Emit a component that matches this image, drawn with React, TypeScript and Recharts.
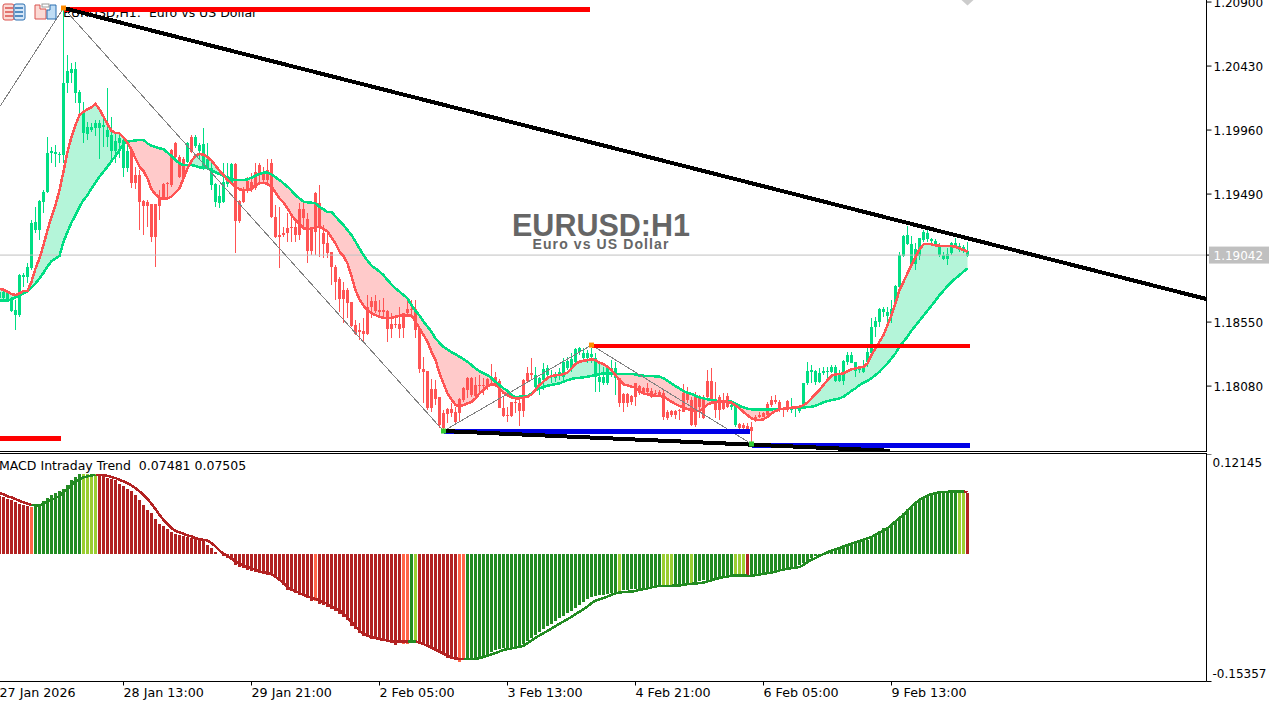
import { Area, Bar, ComposedChart, Line, ReferenceDot, ReferenceLine, XAxis, YAxis } from "recharts";

// EURUSD H1, one row per bar: open, high, low, close
const ohlc = [
  [1.18724,1.18798,1.18700,1.18773],[1.18724,1.18785,1.18712,1.18773],[1.18712,1.18785,1.18700,1.18766],[1.18631,1.18736,1.18626,1.18712],
  [1.18602,1.18712,1.18491,1.18638],[1.18602,1.18903,1.18589,1.18895],[1.18878,1.18908,1.18810,1.18895],[1.18878,1.18981,1.18834,1.18957],
  [1.18944,1.19299,1.18932,1.19280],[1.19226,1.19397,1.19201,1.19287],[1.19226,1.19446,1.19152,1.19439],[1.19429,1.19520,1.19348,1.19507],
  [1.19507,1.19906,1.19500,1.19794],[1.19794,1.19838,1.19715,1.19804],[1.19784,1.19850,1.19691,1.19799],[1.19774,1.19801,1.19715,1.19784],
  [1.19777,1.20846,1.19715,1.20303],[1.20303,1.20511,1.20230,1.20394],[1.20381,1.20450,1.20303,1.20408],[1.20234,1.20462,1.20156,1.20408],
  [1.20156,1.20254,1.20083,1.20242],[1.19936,1.20168,1.19862,1.20083],[1.19931,1.20021,1.19887,1.19985],[1.19960,1.20009,1.19948,1.19985],
  [1.19977,1.20034,1.19916,1.20009],[1.19975,1.20034,1.19745,1.20014],[1.19985,1.20070,1.19838,1.19997],[1.19911,1.20266,1.19838,1.19960],
  [1.19808,1.20058,1.19740,1.19924],[1.19806,1.19948,1.19715,1.19879],[1.19867,1.19924,1.19752,1.19899],[1.19684,1.19899,1.19618,1.19887],
  [1.19684,1.19862,1.19654,1.19808],[1.19808,1.19813,1.19532,1.19574],[1.19630,1.19691,1.19525,1.19574],[1.19630,1.19667,1.19226,1.19434],
  [1.19439,1.19446,1.19189,1.19405],[1.19434,1.19446,1.19250,1.19405],[1.19414,1.19417,1.19140,1.19177],[1.19414,1.19417,1.18957,1.19177],
  [1.19458,1.19520,1.19299,1.19405],[1.19561,1.19569,1.19446,1.19458],[1.19569,1.19581,1.19446,1.19561],[1.19813,1.19818,1.19544,1.19556],
  [1.19862,1.19875,1.19740,1.19764],[1.19764,1.19777,1.19605,1.19618],[1.19745,1.19764,1.19605,1.19618],[1.19728,1.19875,1.19715,1.19862],
  [1.19911,1.19924,1.19789,1.19801],[1.19845,1.19924,1.19826,1.19911],[1.19808,1.19862,1.19740,1.19850],[1.19679,1.19972,1.19667,1.19857],
  [1.19679,1.19862,1.19667,1.19745],[1.19556,1.19745,1.19520,1.19684],[1.19429,1.19569,1.19397,1.19561],[1.19422,1.19556,1.19385,1.19476],
  [1.19429,1.19715,1.19422,1.19581],[1.19564,1.19715,1.19544,1.19618],[1.19564,1.19715,1.19556,1.19711],[1.19711,1.19720,1.19059,1.19294],
  [1.19439,1.19446,1.19275,1.19294],[1.19520,1.19544,1.19422,1.19429],[1.19586,1.19618,1.19495,1.19520],[1.19581,1.19642,1.19507,1.19520],
  [1.19654,1.19715,1.19520,1.19532],[1.19703,1.19715,1.19581,1.19642],[1.19642,1.19691,1.19581,1.19593],[1.19667,1.19745,1.19569,1.19593],
  [1.19715,1.19745,1.19312,1.19319],[1.19324,1.19409,1.19165,1.19172],[1.19189,1.19397,1.18944,1.19172],[1.19201,1.19250,1.19177,1.19189],
  [1.19243,1.19348,1.19140,1.19201],[1.19250,1.19348,1.19140,1.19245],[1.19250,1.19299,1.19140,1.19189],[1.19378,1.19422,1.19152,1.19189],
  [1.19378,1.19446,1.19226,1.19312],[1.19304,1.19348,1.18981,1.19074],[1.19243,1.19250,1.19042,1.19074],[1.19500,1.19507,1.19042,1.19214],
  [1.19422,1.19556,1.19030,1.19250],[1.19201,1.19263,1.19018,1.19121],[1.19133,1.19201,1.19018,1.19055],[1.19062,1.19067,1.18822,1.18952],
  [1.18957,1.18969,1.18712,1.18846],[1.18864,1.18883,1.18626,1.18719],[1.18785,1.18846,1.18540,1.18719],[1.18785,1.18798,1.18577,1.18687],
  [1.18695,1.18700,1.18516,1.18523],[1.18528,1.18565,1.18455,1.18460],[1.18491,1.18540,1.18418,1.18479],[1.18484,1.18577,1.18394,1.18460],
  [1.18663,1.18749,1.18455,1.18460],[1.18707,1.18736,1.18577,1.18663],[1.18707,1.18749,1.18614,1.18629],[1.18638,1.18712,1.18577,1.18626],
  [1.18638,1.18724,1.18577,1.18626],[1.18629,1.18638,1.18406,1.18499],[1.18535,1.18614,1.18430,1.18499],[1.18535,1.18602,1.18504,1.18528],
  [1.18535,1.18663,1.18430,1.18499],[1.18614,1.18619,1.18430,1.18504],[1.18643,1.18712,1.18589,1.18614],[1.18648,1.18712,1.18602,1.18638],
  [1.18643,1.18712,1.18430,1.18491],[1.18504,1.18516,1.18178,1.18203],[1.18205,1.18296,1.17953,1.18185],[1.18190,1.18193,1.17904,1.17916],
  [1.18056,1.18129,1.17892,1.17916],[1.18058,1.18124,1.17941,1.17985],[1.18002,1.18002,1.17769,1.17794],[1.17879,1.17904,1.17757,1.17774],
  [1.17909,1.17916,1.17806,1.17874],[1.17909,1.17953,1.17855,1.17879],[1.17892,1.17928,1.17806,1.17818],[1.17982,1.17990,1.17818,1.17879],
  [1.18063,1.18070,1.17965,1.17977],[1.18137,1.18149,1.17990,1.18051],[1.18137,1.18149,1.18002,1.18014],[1.18088,1.18149,1.18002,1.18009],
  [1.18088,1.18161,1.18014,1.18080],[1.18088,1.18141,1.18014,1.18080],[1.18129,1.18137,1.18051,1.18075],[1.18144,1.18242,1.18100,1.18124],
  [1.18149,1.18185,1.18075,1.18090],[1.18119,1.18129,1.17916,1.17916],[1.17916,1.18002,1.17855,1.17860],[1.17867,1.17928,1.17818,1.17862],
  [1.17965,1.17965,1.17855,1.17862],[1.17965,1.17990,1.17879,1.17960],[1.17958,1.17977,1.17786,1.17899],[1.18124,1.18129,1.17855,1.17899],
  [1.18173,1.18222,1.18112,1.18117],[1.18173,1.18283,1.18124,1.18161],[1.18075,1.18222,1.18063,1.18161],[1.18080,1.18149,1.18014,1.18137],
  [1.18124,1.18247,1.18051,1.18203],[1.18161,1.18234,1.18124,1.18210],[1.18149,1.18198,1.18100,1.18161],[1.18137,1.18185,1.18112,1.18161],
  [1.18156,1.18210,1.18124,1.18185],[1.18149,1.18283,1.18124,1.18259],[1.18210,1.18296,1.18198,1.18266],[1.18210,1.18320,1.18185,1.18276],
  [1.18259,1.18357,1.18247,1.18352],[1.18327,1.18369,1.18308,1.18357],[1.18283,1.18357,1.18271,1.18325],[1.18283,1.18345,1.18247,1.18320],
  [1.18296,1.18357,1.18247,1.18315],[1.18149,1.18320,1.18039,1.18283],[1.18112,1.18247,1.18039,1.18149],[1.18100,1.18222,1.18088,1.18144],
  [1.18100,1.18222,1.18088,1.18210],[1.18198,1.18271,1.18149,1.18210],[1.18137,1.18259,1.18014,1.18210],[1.18137,1.18141,1.17928,1.17953],
  [1.18019,1.18026,1.17892,1.17953],[1.18019,1.18026,1.17928,1.17958],[1.18007,1.18014,1.17941,1.17965],[1.18100,1.18100,1.17933,1.18002],
  [1.18080,1.18088,1.18014,1.18031],[1.18068,1.18075,1.18014,1.18034],[1.18063,1.18100,1.18014,1.18034],[1.18044,1.18063,1.17990,1.18002],
  [1.18031,1.18051,1.18002,1.18022],[1.18039,1.18051,1.18002,1.18014],[1.18026,1.18051,1.17831,1.17850],[1.17892,1.17904,1.17831,1.17843],
  [1.17894,1.17904,1.17855,1.17867],[1.17894,1.17904,1.17836,1.17867],[1.17904,1.17909,1.17831,1.17894],[1.18026,1.18095,1.17889,1.17892],
  [1.18019,1.18075,1.17953,1.17977],[1.17977,1.18002,1.17789,1.17794],[1.18002,1.18039,1.17782,1.17794],[1.18002,1.18014,1.17843,1.17928],
  [1.18002,1.18014,1.17838,1.17843],[1.18117,1.18198,1.17990,1.17997],[1.18117,1.18210,1.17973,1.17977],[1.17977,1.18112,1.17843,1.17904],
  [1.18002,1.18014,1.17831,1.17904],[1.17977,1.18031,1.17904,1.17909],[1.18009,1.18031,1.17916,1.17928],[1.17923,1.17965,1.17904,1.17941],
  [1.17794,1.17941,1.17782,1.17941],[1.17799,1.17806,1.17757,1.17769],[1.17794,1.17806,1.17757,1.17769],[1.17786,1.17806,1.17745,1.17757],
  [1.17782,1.17818,1.17659,1.17752],[1.17850,1.17867,1.17818,1.17826],[1.17867,1.17892,1.17843,1.17850],[1.17879,1.17892,1.17855,1.17855],
  [1.17945,1.17965,1.17855,1.17867],[1.17977,1.18007,1.17928,1.17941],[1.17977,1.18014,1.17948,1.17965],[1.17965,1.17977,1.17892,1.17904],
  [1.17916,1.17928,1.17850,1.17909],[1.17973,1.17977,1.17892,1.17909],[1.17904,1.17990,1.17879,1.17916],[1.17909,1.17928,1.17850,1.17921],
  [1.17897,1.17928,1.17884,1.17921],[1.17928,1.18105,1.17923,1.18100],[1.18100,1.18259,1.18088,1.18193],[1.18185,1.18234,1.18100,1.18198],
  [1.18112,1.18198,1.18088,1.18190],[1.18112,1.18210,1.18100,1.18173],[1.18173,1.18222,1.18161,1.18190],[1.18185,1.18217,1.18137,1.18190],
  [1.18180,1.18234,1.18173,1.18222],[1.18119,1.18234,1.18112,1.18217],[1.18119,1.18198,1.18112,1.18173],[1.18119,1.18271,1.18088,1.18264],
  [1.18254,1.18332,1.18234,1.18308],[1.18252,1.18332,1.18247,1.18308],[1.18193,1.18259,1.18149,1.18259],[1.18198,1.18222,1.18173,1.18210],
  [1.18180,1.18271,1.18173,1.18222],[1.18254,1.18369,1.18222,1.18327],[1.18325,1.18577,1.18320,1.18516],[1.18516,1.18589,1.18443,1.18557],
  [1.18553,1.18651,1.18516,1.18646],[1.18621,1.18663,1.18589,1.18646],[1.18597,1.18663,1.18540,1.18626],[1.18597,1.18712,1.18540,1.18646],
  [1.18687,1.18822,1.18682,1.18815],[1.18810,1.19067,1.18805,1.19042],[1.19037,1.19189,1.19030,1.19182],[1.19123,1.19255,1.19116,1.19189],
  [1.18974,1.19182,1.18969,1.19123],[1.18974,1.19128,1.18932,1.19086],[1.19037,1.19169,1.19005,1.19165],[1.19152,1.19226,1.19140,1.19214],
  [1.19157,1.19226,1.19140,1.19206],[1.19147,1.19165,1.19128,1.19157],[1.19108,1.19157,1.19098,1.19147],[1.19042,1.19128,1.19030,1.19103],
  [1.19013,1.19067,1.19005,1.19042],[1.19013,1.19091,1.18969,1.19050],[1.19055,1.19140,1.19042,1.19128],[1.19103,1.19165,1.19098,1.19128],
  [1.19079,1.19128,1.19067,1.19108],[1.19074,1.19116,1.19059,1.19098],[1.19037,1.19140,1.19030,1.19074],
];

const fastMa = [
  1.18793,1.18788,1.18773,1.18756,1.18749,1.18761,1.18778,1.18780,1.18846,1.18944,1.19018,1.19116,1.19226,1.19324,1.19409,1.19520,
  1.19654,1.19801,1.19911,1.19997,1.20070,1.20095,1.20112,1.20127,1.20151,1.20112,1.20058,1.20004,1.19955,1.19938,1.19936,1.19906,
  1.19867,1.19813,1.19752,1.19691,1.19659,1.19605,1.19525,1.19488,1.19463,1.19454,1.19458,1.19471,1.19500,1.19532,1.19605,1.19679,
  1.19733,1.19772,1.19784,1.19779,1.19762,1.19735,1.19698,1.19662,1.19630,1.19593,1.19569,1.19544,1.19525,1.19520,1.19520,1.19525,
  1.19556,1.19569,1.19574,1.19564,1.19544,1.19500,1.19458,1.19429,1.19385,1.19336,1.19299,1.19270,1.19238,1.19233,1.19236,1.19245,
  1.19250,1.19236,1.19214,1.19172,1.19128,1.19067,1.19035,1.18981,1.18888,1.18785,1.18717,1.18670,1.18638,1.18614,1.18602,1.18589,
  1.18582,1.18577,1.18582,1.18589,1.18597,1.18597,1.18597,1.18597,1.18553,1.18504,1.18455,1.18406,1.18332,1.18271,1.18173,1.18100,
  1.18026,1.17982,1.17941,1.17933,1.17941,1.17953,1.17965,1.17990,1.18026,1.18051,1.18080,1.18093,1.18088,1.18063,1.18031,1.18014,
  1.17997,1.17990,1.17990,1.17995,1.18002,1.18019,1.18051,1.18088,1.18112,1.18141,1.18154,1.18159,1.18161,1.18168,1.18178,1.18210,
  1.18242,1.18259,1.18266,1.18271,1.18276,1.18271,1.18252,1.18242,1.18222,1.18198,1.18161,1.18124,1.18093,1.18085,1.18075,1.18070,
  1.18039,1.18026,1.18019,1.18014,1.18009,1.18007,1.18002,1.17985,1.17965,1.17948,1.17933,1.17923,1.17911,1.17904,1.17897,1.17897,
  1.17916,1.17945,1.17958,1.17963,1.17968,1.17968,1.17965,1.17958,1.17938,1.17916,1.17889,1.17867,1.17843,1.17833,1.17831,1.17836,
  1.17855,1.17879,1.17897,1.17909,1.17914,1.17916,1.17921,1.17923,1.17928,1.17941,1.17958,1.17990,1.18022,1.18051,1.18088,1.18124,
  1.18156,1.18166,1.18168,1.18173,1.18190,1.18203,1.18210,1.18217,1.18222,1.18247,1.18308,1.18357,1.18406,1.18455,1.18528,1.18602,
  1.18687,1.18785,1.18846,1.18908,1.18969,1.19030,1.19084,1.19121,1.19123,1.19121,1.19113,1.19111,1.19108,1.19108,1.19108,1.19103,
  1.19091,1.19079,1.19067,
];

const slowMa = [
  1.18707,1.18707,1.18707,1.18719,1.18731,1.18749,1.18761,1.18773,1.18805,1.18834,1.18871,1.18912,1.18957,1.18998,1.19018,1.19035,
  1.19140,1.19214,1.19280,1.19336,1.19397,1.19446,1.19483,1.19532,1.19574,1.19618,1.19654,1.19691,1.19733,1.19769,1.19813,1.19857,
  1.19875,1.19879,1.19884,1.19887,1.19887,1.19862,1.19845,1.19835,1.19826,1.19821,1.19794,1.19769,1.19740,1.19715,1.19703,1.19703,
  1.19703,1.19696,1.19686,1.19681,1.19679,1.19667,1.19649,1.19637,1.19625,1.19613,1.19600,1.19593,1.19593,1.19593,1.19598,1.19610,
  1.19625,1.19637,1.19647,1.19647,1.19635,1.19613,1.19593,1.19569,1.19544,1.19515,1.19483,1.19458,1.19434,1.19429,1.19427,1.19422,
  1.19397,1.19378,1.19358,1.19360,1.19324,1.19294,1.19263,1.19226,1.19189,1.19140,1.19091,1.19042,1.19001,1.18964,1.18944,1.18920,
  1.18895,1.18859,1.18827,1.18798,1.18773,1.18749,1.18724,1.18675,1.18633,1.18597,1.18553,1.18516,1.18479,1.18430,1.18398,1.18369,
  1.18350,1.18327,1.18315,1.18296,1.18278,1.18259,1.18234,1.18210,1.18190,1.18173,1.18161,1.18141,1.18112,1.18088,1.18063,1.18046,
  1.18014,1.18000,1.18002,1.18002,1.18007,1.18026,1.18051,1.18063,1.18075,1.18083,1.18088,1.18095,1.18100,1.18112,1.18124,1.18132,
  1.18139,1.18141,1.18144,1.18149,1.18154,1.18161,1.18168,1.18173,1.18173,1.18171,1.18168,1.18168,1.18168,1.18168,1.18168,1.18166,
  1.18156,1.18156,1.18154,1.18154,1.18151,1.18149,1.18137,1.18119,1.18100,1.18080,1.18063,1.18044,1.18031,1.18022,1.18009,1.17997,
  1.17990,1.17982,1.17977,1.17973,1.17970,1.17968,1.17968,1.17965,1.17953,1.17936,1.17923,1.17914,1.17909,1.17909,1.17909,1.17909,
  1.17909,1.17909,1.17911,1.17911,1.17914,1.17916,1.17919,1.17921,1.17921,1.17923,1.17926,1.17928,1.17936,1.17948,1.17960,1.17970,
  1.17977,1.17982,1.17990,1.18002,1.18022,1.18046,1.18063,1.18088,1.18105,1.18119,1.18137,1.18161,1.18185,1.18217,1.18247,1.18283,
  1.18320,1.18369,1.18406,1.18443,1.18487,1.18523,1.18560,1.18597,1.18633,1.18670,1.18707,1.18749,1.18780,1.18815,1.18846,1.18871,
  1.18895,1.18920,1.18944,
];

const macdHist = [
  .0709,.0693,.0673,.0653,.0629,.0613,.0596,.0588,.0572,.0588,.0609,.0641,.0681,.0721,.0742,.0762,
  .0790,.0842,.0895,.0935,.0975,.0975,.0975,.0971,.0971,.0959,.0943,.0927,.0911,.0895,.0854,.0822,
  .0794,.0766,.0713,.0661,.0600,.0540,.0500,.0427,.0371,.0339,.0306,.0266,.0250,.0238,.0226,.0210,
  .0197,.0185,.0177,.0157,.0117,.0073,.0024,.0008,-.0016,-.0048,-.0064,-.0125,-.0153,-.0169,-.0185,-.0202,
  -.0218,-.0226,-.0234,-.0246,-.0246,-.0286,-.0326,-.0367,-.0427,-.0447,-.0467,-.0488,-.0508,-.0528,-.0568,-.0568,
  -.0596,-.0609,-.0637,-.0661,-.0681,-.0717,-.0758,-.0798,-.0862,-.0903,-.0951,-.0991,-.1003,-.1016,-.1024,-.1032,
  -.1040,-.1052,-.1072,-.1092,-.1072,-.1080,-.1080,-.1052,-.1052,-.1064,-.1092,-.1112,-.1145,-.1173,-.1193,-.1213,
  -.1253,-.1265,-.1273,-.1294,-.1265,-.1273,-.1273,-.1265,-.1261,-.1253,-.1213,-.1185,-.1153,-.1140,-.1136,-.1132,
  -.1124,-.1112,-.1104,-.1080,-.1048,-.1012,-.0971,-.0935,-.0903,-.0866,-.0838,-.0806,-.0774,-.0742,-.0709,-.0681,
  -.0649,-.0613,-.0580,-.0544,-.0516,-.0504,-.0496,-.0488,-.0476,-.0463,-.0459,-.0447,-.0435,-.0427,-.0423,-.0419,
  -.0419,-.0411,-.0403,-.0403,-.0395,-.0387,-.0367,-.0367,-.0367,-.0367,-.0367,-.0355,-.0347,-.0347,-.0339,-.0326,
  -.0314,-.0306,-.0298,-.0286,-.0274,-.0266,-.0258,-.0258,-.0246,-.0246,-.0246,-.0258,-.0258,-.0246,-.0234,-.0226,
  -.0218,-.0206,-.0193,-.0185,-.0173,-.0165,-.0153,-.0145,-.0133,-.0105,-.0073,-.0044,-.0024,-.0008,.0008,.0016,
  .0056,.0064,.0077,.0089,.0117,.0125,.0137,.0149,.0157,.0177,.0197,.0238,.0278,.0318,.0330,.0359,
  .0399,.0439,.0500,.0548,.0580,.0621,.0661,.0689,.0713,.0733,.0750,.0754,.0754,.0754,.0762,.0762,
  .0754,.0754,.07481,
];

const macdSignal = [
  .0742,.0729,.0701,.0693,.0669,.0649,.0629,.0613,.0600,.0592,.0592,.0613,.0641,.0661,.0681,.0709,
  .0750,.0790,.0842,.0883,.0911,.0931,.0943,.0955,.0963,.0963,.0959,.0951,.0935,.0923,.0903,.0883,
  .0862,.0834,.0802,.0762,.0721,.0673,.0613,.0548,.0480,.0419,.0371,.0318,.0286,.0266,.0250,.0230,
  .0218,.0197,.0185,.0177,.0169,.0137,.0097,.0048,.0008,-.0016,-.0048,-.0085,-.0113,-.0133,-.0153,-.0169,
  -.0185,-.0210,-.0214,-.0226,-.0238,-.0266,-.0306,-.0347,-.0395,-.0419,-.0443,-.0467,-.0488,-.0508,-.0524,-.0540,
  -.0556,-.0576,-.0596,-.0629,-.0649,-.0677,-.0717,-.0762,-.0818,-.0870,-.0919,-.0959,-.0983,-.0999,-.1012,-.1024,
  -.1032,-.1040,-.1048,-.1052,-.1052,-.1052,-.1052,-.1052,-.1052,-.1064,-.1084,-.1104,-.1124,-.1153,-.1173,-.1201,
  -.1225,-.1245,-.1257,-.1265,-.1265,-.1265,-.1265,-.1261,-.1253,-.1241,-.1225,-.1209,-.1193,-.1173,-.1153,-.1145,
  -.1136,-.1124,-.1116,-.1104,-.1072,-.1040,-.1008,-.0979,-.0951,-.0923,-.0895,-.0866,-.0838,-.0810,-.0782,-.0754,
  -.0721,-.0693,-.0661,-.0629,-.0588,-.0560,-.0544,-.0528,-.0508,-.0488,-.0471,-.0459,-.0455,-.0451,-.0447,-.0443,
  -.0427,-.0419,-.0411,-.0399,-.0387,-.0379,-.0379,-.0379,-.0379,-.0375,-.0375,-.0367,-.0359,-.0355,-.0351,-.0347,
  -.0339,-.0326,-.0314,-.0298,-.0286,-.0274,-.0266,-.0254,-.0254,-.0254,-.0254,-.0258,-.0258,-.0250,-.0242,-.0234,
  -.0226,-.0218,-.0206,-.0193,-.0181,-.0173,-.0165,-.0157,-.0153,-.0125,-.0093,-.0064,-.0044,-.0016,.0004,.0028,
  .0048,.0064,.0077,.0097,.0113,.0129,.0145,.0165,.0177,.0197,.0210,.0238,.0266,.0290,.0318,.0359,
  .0399,.0439,.0480,.0528,.0580,.0621,.0661,.0689,.0713,.0729,.0742,.0750,.0754,.0758,.0762,.0762,
  .0762,.0762,.07505,
];

// histogram state per run of bars: d = falling, t = weak falling, g = rising, y = weak rising
const histRuns: [string, number][] = [
  ["d",8],["t",1],["g",12],["y",4],["d",54],["t",1],["d",21],["t",2],["g",1],["y",1],["d",10],["t",2],
  ["g",38],["y",1],["g",10],["y",3],["g",4],["y",1],["g",10],["y",3],["d",1],["g",52],["y",2],["d",1],
];
const histState = histRuns.flatMap(([s, n]) => Array(n).fill(s) as string[]);

const priceTicks = [1.209, 1.2043, 1.1996, 1.1949, 1.19042, 1.1855, 1.1808];
const lastPrice = 1.19042;
const macdTicks = [0.12145, -0.15357];
const timeTickBars = [0, 31, 63, 95, 127, 159, 191, 223];
const timeTickLabels = ["27 Jan 2026", "28 Jan 13:00", "29 Jan 21:00", "2 Feb 05:00", "3 Feb 13:00", "4 Feb 21:00", "6 Feb 05:00", "9 Feb 13:00"];

// drawn objects on the price chart, [bar, price]
const zigzag = [[-1.5, 1.2006], [16, 1.20856], [111, 1.1775], [148, 1.18381], [188, 1.17655]];
const trendTop = [[16, 1.20856], [301.75, 1.18719]];
const trendBottom = [[111, 1.1775], [222.6, 1.17605]];
const redLevels = [[-2, 15.4, 1.17696], [16, 147.6, 1.20846], [148, 242.5, 1.18376]];
const blueLevels = [[111, 187.5, 1.17747], [188, 242.5, 1.17642]];
const pivotsOrange = [[16, 1.20856], [148, 1.18381]];
const pivotsGreen = [[111, 1.1775], [188, 1.17655]];

const UP = "#00DE83";
const DOWN = "#FF5454";
const FONT = "DejaVu Sans";
const xDomain = [-1.875, 301.75];

const priceData = ohlc.map((c, idx) => ({
  idx, open: c[0], high: c[1], low: c[2], close: c[3], fast: fastMa[idx], slow: slowMa[idx],
  upBand: [slowMa[idx], Math.max(fastMa[idx], slowMa[idx])],
  downBand: [Math.min(fastMa[idx], slowMa[idx]), slowMa[idx]],
}));

const isDown = (i: number) => histState[i] === "d" || histState[i] === "t";
const macdData = macdHist.map((hist, idx) => ({
  idx, hist,
  sigDown: isDown(idx) || isDown(idx + 1) ? macdSignal[idx] : null,
  sigUp: !isDown(idx) || (idx + 1 < macdHist.length && !isDown(idx + 1)) ? macdSignal[idx] : null,
}));
const histColor: Record<string, string> = { d: "#B22222", t: "#FF6347", g: "#228B22", y: "#9ACD32" };

function Candle(props: any) {
  const { x, width, y, height, payload } = props;
  const top = Math.min(y, y + height);
  const h = Math.abs(height);
  const range = payload.high - payload.low;
  const ratio = range > 0 ? h / range : 0;
  const bodyTop = top + (payload.high - Math.max(payload.open, payload.close)) * ratio;
  const bodyH = Math.max(Math.abs(payload.close - payload.open) * ratio, 1);
  const fill = payload.close >= payload.open ? UP : DOWN;
  const left = Math.ceil(x);
  return (
    <g shapeRendering="crispEdges">
      <rect x={left + 1} y={top} width={1} height={h} fill={fill} />
      <rect x={left} y={bodyTop} width={width} height={bodyH} fill={fill} />
    </g>
  );
}

function HistBar(props: any) {
  const { x, width, y, height, payload } = props;
  return (
    <rect
      x={Math.ceil(x)}
      y={Math.min(y, y + height)}
      width={width}
      height={Math.abs(height)}
      fill={histColor[histState[payload.idx]]}
      shapeRendering="crispEdges"
    />
  );
}

function PriceTick(props: any) {
  const { x, y, payload } = props;
  if (payload.value === lastPrice) {
    return (
      <g>
        <rect x={x - 4.5} y={y - 8.5} width={60} height={17} fill="#C0C0C0" />
        <text x={x} y={y + 4.5} fontFamily={FONT} fontSize={12} fill="#fff">{payload.value.toFixed(5)}</text>
      </g>
    );
  }
  return <text x={x} y={y + 4.5} fontFamily={FONT} fontSize={12} fill="#000">{payload.value.toFixed(5)}</text>;
}

function MacdTick(props: any) {
  const { x, y, payload } = props;
  const dy = payload.value > 0 ? 12.5 : -4;
  return <text x={x} y={y + dy} fontFamily={FONT} fontSize={12} fill="#000">{payload.value.toFixed(5)}</text>;
}

function TimeTick(props: any) {
  const { x, y, payload } = props;
  const label = timeTickLabels[timeTickBars.indexOf(payload.value)];
  return <text x={x} y={y + 9} fontFamily={FONT} fontSize={12.7} fill="#000">{label}</text>;
}

const seg = (from: number[], to: number[], stroke: string, width: number, key: string) => (
  <ReferenceLine
    key={key}
    segment={[{ x: from[0], y: from[1] }, { x: to[0], y: to[1] }]}
    stroke={stroke}
    strokeWidth={width}
    shapeRendering="crispEdges"
    ifOverflow="visible"
  />
);

const square = (fill: string) => (p: any) => <rect x={p.cx - 2.5} y={p.cy - 2.5} width={5} height={5} fill={fill} />;

export default function App() {
  return (
    <div style={{ position: "absolute", left: 0, top: 0, width: 1282, height: 706, overflow: "hidden", background: "#fff" }}>
      <div style={{ position: "absolute", left: 63, top: 5, fontFamily: FONT, fontSize: 12.5, whiteSpace: "pre", color: "#000" }}>EURUSD,H1:  Euro vs US Dollar</div>
      <div style={{ position: "absolute", left: 401, width: 400, top: 212, height: 26, textAlign: "center", fontFamily: "Liberation Sans", fontWeight: 700, fontSize: 30.5, lineHeight: "26px", color: "#666" }}>EURUSD:H1</div>
      <div style={{ position: "absolute", left: 401, width: 400, top: 238, height: 13, textAlign: "center", fontFamily: "Liberation Sans", fontWeight: 700, fontSize: 14, lineHeight: "13px", letterSpacing: 1.1, color: "#666" }}>Euro vs US Dollar</div>
      <div style={{ position: "absolute", left: -1, top: 458, fontFamily: FONT, fontSize: 12.5, lineHeight: "16px", whiteSpace: "pre", color: "#000" }}>MACD Intraday Trend  0.07481 0.07505</div>

      <div style={{ position: "absolute", left: -8, top: 0 }}>
        <ComposedChart width={1290} height={452} data={priceData} margin={{ top: 0, right: 0, bottom: 0, left: 0 }}>
          <XAxis hide type="number" dataKey="idx" domain={xDomain} allowDataOverflow />
          <YAxis
            orientation="right"
            width={75.5}
            type="number"
            domain={[1.17596, 1.20915]}
            allowDataOverflow
            ticks={priceTicks}
            interval={0}
            tick={<PriceTick />}
            tickSize={5}
            tickMargin={2}
            stroke="#000"
          />
          <Area dataKey="upBand" type="linear" stroke="none" fill="#B4F5D9" fillOpacity={1} dot={false} activeDot={false} isAnimationActive={false} />
          <Area dataKey="downBand" type="linear" stroke="none" fill="#FFCACA" fillOpacity={1} dot={false} activeDot={false} isAnimationActive={false} />
          <ReferenceLine y={lastPrice} stroke="#C0C0C0" strokeWidth={1} />
          <Bar dataKey={(d: any) => [d.low, d.high]} barSize={3} shape={<Candle />} isAnimationActive={false} />
          <Line dataKey="slow" type="linear" stroke={UP} strokeWidth={2.5} shapeRendering="crispEdges" dot={false} activeDot={false} isAnimationActive={false} />
          <Line dataKey="fast" type="linear" stroke={DOWN} strokeWidth={2.5} shapeRendering="crispEdges" dot={false} activeDot={false} isAnimationActive={false} />
          {zigzag.slice(1).map((p, k) => seg(zigzag[k], p, "#808080", 1, `zz${k}`))}
          {redLevels.map((l, k) => seg([l[0], l[2]], [l[1], l[2]], "#FF0000", 4.5, `red${k}`))}
          {blueLevels.map((l, k) => seg([l[0], l[2]], [l[1], l[2]], "#0000E6", 4.5, `blue${k}`))}
          {seg(trendTop[0], trendTop[1], "#000", 4, "tt")}
          {seg(trendBottom[0], trendBottom[1], "#000", 4, "tb")}
          {pivotsOrange.map((p, k) => <ReferenceDot key={`o${k}`} x={p[0]} y={p[1]} ifOverflow="visible" shape={square("#FF8C00")} />)}
          {pivotsGreen.map((p, k) => <ReferenceDot key={`g${k}`} x={p[0]} y={p[1]} ifOverflow="visible" shape={square("#32CD32")} />)}
        </ComposedChart>
      </div>

      <div style={{ position: "absolute", left: 0, top: 451, width: 1207, height: 1, background: "#000" }} />
      <div style={{ position: "absolute", left: 0, top: 453, width: 1207, height: 1, background: "#000" }} />

      <div style={{ position: "absolute", left: -8, top: 454 }}>
        <ComposedChart width={1290} height={252} data={macdData} margin={{ top: 0, right: 0, bottom: 0, left: 0 }}>
          <XAxis
            type="number"
            dataKey="idx"
            domain={xDomain}
            allowDataOverflow
            ticks={timeTickBars}
            interval={0}
            height={24.5}
            tick={<TimeTick />}
            tickSize={4}
            tickMargin={2}
            stroke="#000"
          />
          <YAxis
            orientation="right"
            width={75.5}
            type="number"
            domain={[-0.15357, 0.12145]}
            allowDataOverflow
            ticks={macdTicks}
            interval={0}
            tick={<MacdTick />}
            tickSize={5}
            tickMargin={1}
            stroke="#000"
          />
          <Bar dataKey="hist" barSize={3} shape={<HistBar />} isAnimationActive={false} />
          <Line dataKey="sigDown" type="linear" stroke="#B22222" strokeWidth={2.5} shapeRendering="crispEdges" dot={false} activeDot={false} isAnimationActive={false} />
          <Line dataKey="sigUp" type="linear" stroke="#228B22" strokeWidth={2.5} shapeRendering="crispEdges" dot={false} activeDot={false} isAnimationActive={false} />
        </ComposedChart>
      </div>

      <svg width={60} height={24} style={{ position: "absolute", left: 0, top: 0 }}>
        <rect x={3} y={4} width={11} height={16} rx={2} fill="#FBDAD5" stroke="#D9534F" />
        <rect x={14} y={4} width={11} height={16} rx={2} fill="#D5E6F7" stroke="#2A6FB0" />
        <path d="M5 8h8M5 12h8M5 16h8" stroke="#D9534F" strokeWidth={1.5} />
        <path d="M15 8h8M15 12h8M15 16h8" stroke="#2A6FB0" strokeWidth={1.5} />
        <path d="M35 5h5v4h6v10H35z" fill="#FBDAD5" stroke="#D9534F" />
        <path d="M47 10h3V5h6v14H47z" fill="#BFDDF5" stroke="#2A6FB0" />
        <rect x={42} y={4} width={7} height={3} fill="#fff" stroke="#999" />
      </svg>
      <svg width={14} height={8} style={{ position: "absolute", left: 961, top: 0 }}>
        <polygon points="0.5,0 12.5,0 6.5,5.5" fill="#CCCCCC" />
      </svg>
    </div>
  );
}
